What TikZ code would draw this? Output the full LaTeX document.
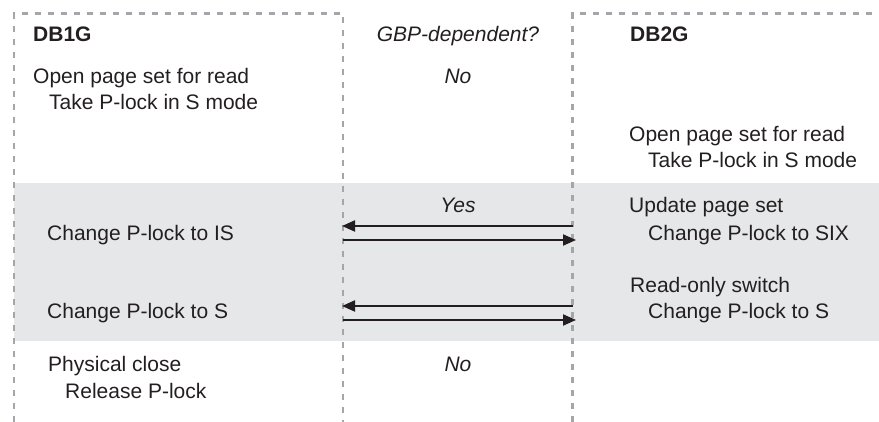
\documentclass[tikz,border=0pt]{standalone}
\usepackage{fontspec}
\setmainfont{Liberation Sans}
\usetikzlibrary{arrows.meta}
\definecolor{bandgray}{HTML}{E6E7E8}
\definecolor{dashgray}{HTML}{A4A6A9}
\definecolor{ink}{HTML}{231F20}
\begin{document}
\begin{tikzpicture}[x=1pt,y=-1pt,
  lbl/.style={anchor=base west,inner sep=0pt,text=ink,font=\fontsize{21}{25}\selectfont},
  ctr/.style={anchor=base,inner sep=0pt,text=ink,font=\fontsize{21}{25}\selectfont\itshape},
  hdr/.style={lbl,font=\fontsize{21}{25}\selectfont\bfseries},
  lifeline/.style={draw=dashgray,line width=2.2pt,dash pattern=on 6pt off 7pt},
  msg/.style={draw=ink,line width=2pt,-{Triangle[length=13pt,width=11pt]}}]
\useasboundingbox (0,0) rectangle (879,422);
% gray band
\fill[bandgray] (14,183) rectangle (879,341);
% dashed frames
\draw[lifeline] (14,422) -- (14,13.5) -- (343,13.5) -- (343,422);
\draw[lifeline] (572.5,422) -- (572.5,13.5) -- (879,13.5);
% lifeline coordinates
\coordinate (L1) at (342,226);
\coordinate (R1) at (572.5,226);
\coordinate (L2) at (343,240);
\coordinate (R2) at (576,240);
\coordinate (L3) at (342,306);
\coordinate (R3) at (572.5,306);
\coordinate (L4) at (343,320);
\coordinate (R4) at (576,320);
% messages
\draw[msg] (R1) -- (L1);
\draw[msg] (L2) -- (R2);
\draw[msg] (R3) -- (L3);
\draw[msg] (L4) -- (R4);
% left column
\node[hdr] (db1) at (33,41.5) {DB1G};
\node[lbl] (o1) at (33,84) {Open page set for read};
\node[lbl] (t1) at (49,110) {Take P-lock in S mode};
\node[lbl] (c1) at (47,240.5) {Change P-lock to IS};
\node[lbl] (c2) at (47,318.5) {Change P-lock to S};
\node[lbl] (pc) at (48,371.7) {Physical close};
\node[lbl] (rl) at (65,398.5) {Release P-lock};
% middle column
\node[ctr] (gbp) at (458,41.5) {GBP-dependent?};
\node[ctr] (no1) at (458,84) {No};
\node[ctr] (yes) at (458,213) {Yes};
\node[ctr] (no2) at (458,371.7) {No};
% right column
\node[hdr] (db2) at (630,41.5) {DB2G};
\node[lbl] (o2) at (629,141.5) {Open page set for read};
\node[lbl] (t2) at (648,168) {Take P-lock in S mode};
\node[lbl] (up) at (629,213) {Update page set};
\node[lbl] (cx) at (648,240.5) {Change P-lock to SIX};
\node[lbl] (ro) at (630,292.5) {Read-only switch};
\node[lbl] (cs) at (648,318.5) {Change P-lock to S};
\end{tikzpicture}
\end{document}
